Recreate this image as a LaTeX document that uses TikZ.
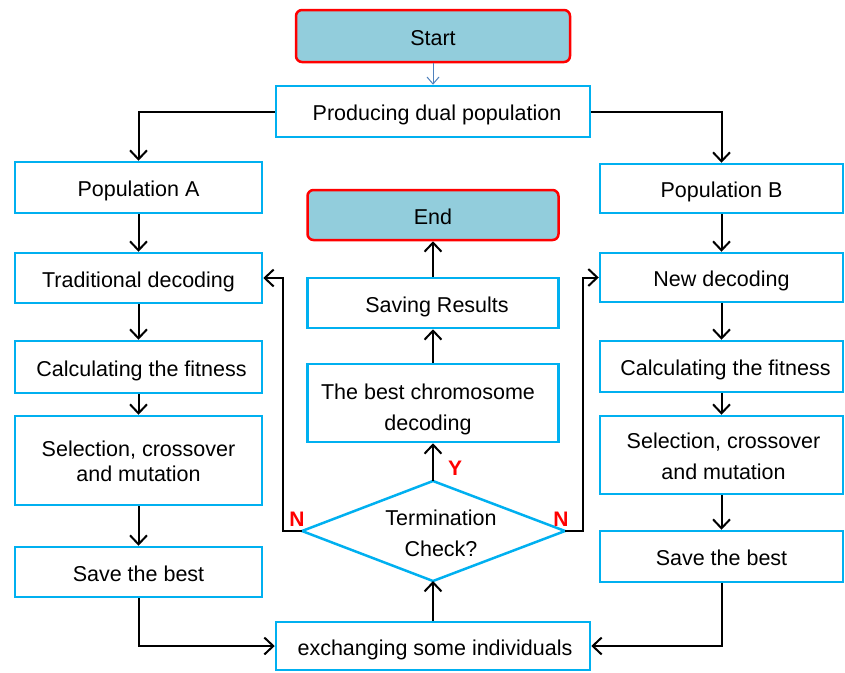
\documentclass[tikz,border=0pt]{standalone}
\usepackage{fontspec}
\setmainfont{Liberation Sans}
\usetikzlibrary{arrows.meta}
\definecolor{boxcyan}{HTML}{00B0F0}
\definecolor{termfill}{HTML}{92CDDC}
\definecolor{startarrow}{HTML}{4F81BD}
% box label: lowered by #1 without changing the node size
\newcommand{\boxlabel}[2]{\raisebox{-#1}[\height][\depth]{\begin{tabular}{@{}c@{}}#2\end{tabular}}}
\begin{document}
\begin{tikzpicture}[x=1pt,y=-1pt,
  font=\fontsize{21.5}{31}\selectfont,
  stepbox/.style={draw=boxcyan,line width=2.5pt,fill=white,inner sep=0pt,
    minimum width=247pt},
  termbox/.style={draw=red,line width=2.5pt,fill=termfill,rounded corners=6pt,
    inner sep=0pt},
  flow/.style={line width=2pt,-{Straight Barb[length=9pt,width=17pt,line width=2pt]}},
  flag/.style={text=red,font=\fontsize{21}{24}\selectfont\bfseries}]
\useasboundingbox (0,0) rectangle (845,672);

% start / end terminals
\node[termbox,minimum width=274pt,minimum height=52pt] (start) at (433,36) {\boxlabel{3pt}{Start}};
\node[termbox,minimum width=251pt,minimum height=50pt] (end) at (433,215) {\boxlabel{3pt}{End}};

% split into two populations
\node[stepbox,minimum width=314pt,minimum height=51pt] (prod) at (433,111.5) {\hspace{8pt}\boxlabel{3pt}{Producing dual population}};

% left column: population A
\node[stepbox,minimum height=51pt] (popA) at (138.5,187.5) {\boxlabel{3pt}{Population A}};
\node[stepbox,minimum height=50pt] (decA) at (138.5,278) {\boxlabel{3pt}{Traditional decoding}};
\node[stepbox,minimum height=52pt] (fitA) at (138.5,367) {\hspace{6pt}\boxlabel{3pt}{Calculating the fitness}};
\node[stepbox,minimum height=89pt,font=\fontsize{21.5}{25}\selectfont] (selA) at (138.5,460.5) {\boxlabel{3pt}{Selection, crossover\\and mutation}};
\node[stepbox,minimum height=50pt] (bestA) at (138.5,572) {\boxlabel{3pt}{Save the best}};

% right column: population B
\node[stepbox,minimum width=243pt,minimum height=49pt] (popB) at (721.5,188.5) {\boxlabel{3pt}{Population B}};
\node[stepbox,minimum width=243pt,minimum height=49pt] (decB) at (721.5,277.5) {\boxlabel{3pt}{New decoding}};
\node[stepbox,minimum width=243pt,minimum height=51pt] (fitB) at (721.5,366.5) {\hspace{8pt}\boxlabel{3pt}{Calculating the fitness}};
\node[stepbox,minimum width=243pt,minimum height=78pt] (selB) at (721.5,455) {\hspace{4pt}\boxlabel{3pt}{Selection, crossover\\and mutation}};
\node[stepbox,minimum width=243pt,minimum height=51pt] (bestB) at (721.5,556.5) {\boxlabel{3pt}{Save the best}};

% centre column
\node[stepbox,minimum width=314pt,minimum height=48pt] (exch) at (433,646) {\hspace{4pt}\boxlabel{3pt}{exchanging some individuals}};
\node[stepbox,minimum width=251pt,minimum height=78pt] (bestdec) at (433,403) {\hspace{-10pt}\boxlabel{6pt}{The best chromosome\\decoding}};
\node[stepbox,minimum width=251pt,minimum height=50pt] (saveres) at (433,303) {\hspace{8pt}\boxlabel{3pt}{Saving Results}};

% termination decision diamond
\coordinate (chkN) at (433,481);
\coordinate (chkS) at (433,581);
\coordinate (chkW) at (302,531);
\coordinate (chkE) at (565,531);
\draw[draw=boxcyan,line width=2.5pt,fill=white,line join=miter]
  (chkN) -- (chkE) -- (chkS) -- (chkW) -- cycle;
\node[inner sep=0pt] (chk) at (441,535) {\boxlabel{0pt}{Termination\\Check?}};

% loop-back corners
\coordinate (nl) at (283,531);
\coordinate (nr) at (583,531);

% connectors
\draw[line width=1pt,draw=startarrow,-{Straight Barb[length=7pt,width=12pt,line width=1pt]}] (start) -- (prod);
\draw[flow] (prod.west) -| (popA.north);
\draw[flow] (prod.east) -| (popB.north);
\draw[flow] (popA) -- (decA);
\draw[flow] (decA) -- (fitA);
\draw[flow] (fitA) -- (selA);
\draw[flow] (selA) -- (bestA);
\draw[flow] (popB) -- (decB);
\draw[flow] (decB) -- (fitB);
\draw[flow] (fitB) -- (selB);
\draw[flow] (selB) -- (bestB);
\draw[flow] (bestA.south) |- (exch.west);
\draw[flow] (bestB.south) |- (exch.east);
\draw[flow] (exch.north) -- (chkS);
\draw[flow] (chkN) -- (bestdec.south);
\draw[flow] (bestdec) -- (saveres);
\draw[flow] (saveres) -- (end);
\draw[flow] (chkW) -- (nl) |- (decA.east);
\draw[flow] (chkE) -- (nr) |- (decB.west);

% decision labels
\node[flag] (ylab) at (455,468) {Y};
\node[flag] (nlab) at (297,519) {N};
\node[flag] (nrlab) at (561,519) {N};
\end{tikzpicture}
\end{document}
